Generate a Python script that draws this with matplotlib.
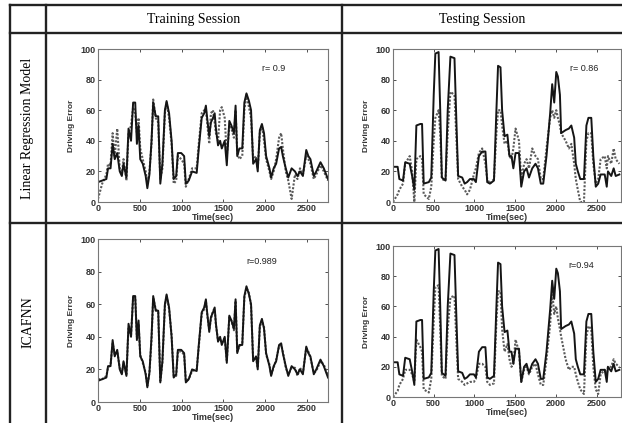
import matplotlib
matplotlib.use("Agg")
from matplotlib import pyplot as plt
from matplotlib.lines import Line2D

# training session (same driving error for both models)
train_t = [0, 50, 100, 120, 150, 175, 200, 230, 260, 285, 305, 340, 365, 395, 420,
           445, 465, 485, 505, 535, 570, 590, 615, 640, 660, 690, 720, 745, 770, 800,
           820, 850, 880, 905, 935, 955, 995, 1030, 1050, 1085, 1125, 1180, 1205, 1240, 1270,
           1290, 1305, 1330, 1350, 1375, 1395, 1410, 1435, 1460, 1480, 1515, 1540, 1570, 1595, 1625,
           1645, 1665, 1690, 1725, 1750, 1775, 1805, 1830, 1855, 1890, 1910, 1935, 1960, 1985, 2010,
           2050, 2070, 2100, 2130, 2165, 2190, 2210, 2245, 2275, 2315, 2355, 2385, 2415, 2450, 2490,
           2515, 2540, 2580, 2610, 2660, 2700, 2750]
train_actual = [13, 14, 15, 22, 22, 38, 28, 32, 20, 17, 25, 16, 48, 40, 65,
                65, 38, 50, 28, 25, 17, 9, 18, 40, 65, 56, 56, 12, 25, 60,
                66, 58, 40, 15, 17, 32, 32, 30, 12, 14, 20, 19, 35, 55, 58,
                63, 55, 43, 52, 55, 58, 48, 37, 40, 35, 40, 24, 53, 50, 45,
                63, 30, 35, 35, 65, 71, 66, 60, 25, 28, 20, 47, 51, 45, 30,
                22, 16, 22, 25, 35, 36, 30, 22, 16, 22, 20, 17, 20, 17, 34,
                30, 28, 17, 20, 26, 22, 15]
train_lr = [2, 12, 18, 25, 24, 45, 30, 48, 22, 18, 28, 14, 45, 50, 62,
            58, 45, 55, 35, 28, 20, 12, 20, 38, 67, 55, 52, 15, 22, 58,
            65, 55, 38, 12, 14, 30, 28, 25, 10, 15, 22, 22, 38, 58, 60,
            60, 52, 38, 58, 60, 52, 45, 40, 60, 62, 55, 30, 50, 48, 42,
            60, 32, 28, 30, 60, 70, 62, 55, 28, 30, 22, 45, 50, 40, 28,
            20, 15, 20, 28, 42, 45, 35, 20, 14, 2, 18, 15, 22, 18, 30,
            28, 25, 15, 18, 24, 20, 14]
train_icafnn = [14, 14, 16, 21, 23, 36, 29, 31, 21, 17, 24, 17, 46, 41, 64,
                64, 40, 48, 29, 24, 18, 10, 18, 38, 64, 57, 55, 13, 24, 59,
                65, 57, 41, 16, 16, 31, 31, 29, 13, 14, 19, 20, 34, 54, 57,
                62, 54, 44, 51, 56, 57, 47, 38, 39, 36, 39, 25, 52, 50, 44,
                62, 31, 34, 36, 64, 70, 67, 59, 26, 27, 21, 46, 50, 46, 29,
                23, 17, 21, 26, 34, 35, 31, 21, 17, 21, 21, 16, 21, 18, 33,
                31, 27, 18, 19, 25, 23, 16]

# testing session
test_t = [0, 57, 78, 123, 150, 205, 235, 262, 287, 336, 357, 377, 440, 470, 500,
          520, 560, 580, 600, 645, 672, 705, 755, 780, 800, 850, 880, 910, 945, 993,
          1018, 1055, 1095, 1135, 1157, 1190, 1240, 1270, 1290, 1320, 1340, 1370, 1405, 1430, 1455,
          1478, 1505, 1547, 1575, 1610, 1640, 1670, 1710, 1750, 1780, 1815, 1845, 1885, 1930, 1955,
          1980, 2005, 2025, 2050, 2065, 2120, 2160, 2190, 2225, 2245, 2270, 2300, 2345, 2375, 2400,
          2435, 2460, 2490, 2520, 2550, 2600, 2625, 2640, 2680, 2710, 2735, 2780]
test_actual = [23, 23, 15, 14, 26, 25, 17, 8, 50, 51, 51, 12, 13, 16, 70,
               97, 98, 60, 16, 14, 60, 95, 94, 50, 17, 16, 12, 13, 15, 15,
               13, 30, 33, 33, 13, 12, 14, 60, 89, 88, 60, 43, 44, 30, 30,
               22, 32, 32, 10, 20, 22, 16, 22, 25, 22, 12, 12, 30, 58, 77,
               65, 85, 82, 70, 45, 47, 48, 50, 42, 25, 20, 15, 15, 50, 55,
               55, 30, 10, 12, 18, 18, 10, 20, 17, 22, 17, 18]
test_lr = [0, 5, 8, 12, 25, 30, 20, 0, 28, 30, 28, 5, 2, 10, 40,
           55, 60, 45, 15, 14, 45, 72, 70, 40, 15, 10, 8, 5, 8, 18,
           22, 32, 35, 25, 15, 12, 15, 45, 60, 60, 50, 38, 40, 30, 28,
           35, 48, 40, 15, 25, 28, 22, 35, 30, 28, 15, 15, 35, 55, 60,
           55, 60, 55, 50, 45, 40, 35, 38, 25, 15, 8, 0, 0, 40, 45,
           45, 25, 12, 15, 28, 30, 22, 30, 25, 35, 28, 25]
test_icafnn = [0, 4, 8, 12, 18, 18, 15, 10, 38, 33, 30, 5, 3, 12, 50,
               73, 74, 45, 14, 12, 45, 66, 67, 35, 12, 10, 8, 9, 10, 10,
               12, 22, 22, 20, 10, 8, 9, 50, 70, 70, 45, 30, 35, 25, 20,
               22, 38, 30, 10, 18, 20, 15, 20, 22, 15, 8, 8, 25, 48, 70,
               55, 60, 52, 45, 40, 25, 18, 20, 20, 15, 10, 5, 2, 40, 47,
               45, 20, 5, 2, 15, 18, 15, 20, 20, 25, 22, 20]

col_titles = ["Training Session", "Testing Session"]
row_titles = ["Linear Regression Model", "ICAFNN"]
r_values = [["r= 0.9", "r= 0.86"], ["r=0.989", "r=0.94"]]
r_pos = [[(1960, 87), (2175, 87)], [(1770, 86), (2150, 87)]]

W, H = 622, 423
fig = plt.figure(figsize=(W / 100, H / 100), dpi=100)
fig.patch.set_facecolor("white")


def px_axes(left, top, right, bottom):
    return fig.add_axes([left / W, 1 - bottom / H, (right - left) / W, (bottom - top) / H])


def hline(y, x0, x1):
    fig.add_artist(Line2D([x0 / W, x1 / W], [1 - y / H, 1 - y / H], color="#222222", lw=1.7))


def vline(x, y0, y1):
    fig.add_artist(Line2D([x / W, x / W], [1 - y0 / H, 1 - y1 / H], color="#222222", lw=1.7))


# table grid
hline(5, 10, 622)
hline(33, 10, 622)
hline(223, 10, 622)
vline(10, 5, 423)
vline(46, 5, 423)
vline(342, 5, 423)

fig.text(194 / W, 1 - 19 / H, col_titles[0], ha="center", va="center",
         family="Liberation Serif", fontsize=10)
fig.text(482 / W, 1 - 19 / H, col_titles[1], ha="center", va="center",
         family="Liberation Serif", fontsize=10)
fig.text(28 / W, 1 - 128 / H, row_titles[0], ha="center", va="center", rotation=90,
         family="Liberation Serif", fontsize=10)
fig.text(28 / W, 1 - 322 / H, row_titles[1], ha="center", va="center", rotation=90,
         family="Liberation Serif", fontsize=10)

boxes = [[(98, 49, 328, 202), (393, 49, 621, 202)],
         [(98, 239, 328, 402), (393, 246, 621, 397)]]
xlims = [2750, 2800]
series = [[(train_t, train_actual, train_lr), (test_t, test_actual, test_lr)],
          [(train_t, train_actual, train_icafnn), (test_t, test_actual, test_icafnn)]]

for i in range(2):
    for j in range(2):
        ax = px_axes(*boxes[i][j])
        t, actual, pred = series[i][j]
        ax.plot(t, pred, color="#5a5a5a", lw=1.5, linestyle=(0, (1, 0.8)))
        ax.plot(t, actual, color="#151515", lw=1.4)
        ax.set_xlim(0, xlims[j])
        ax.set_ylim(0, 100)
        ax.set_xticks([0, 500, 1000, 1500, 2000, 2500])
        ax.set_yticks([0, 20, 40, 60, 80, 100])
        ax.tick_params(direction="in", length=2, width=0.6, top=True, right=True,
                       labelsize=6.5, pad=1.5, colors="#333333")
        for lab in ax.get_xticklabels() + ax.get_yticklabels():
            lab.set_family("Liberation Sans")
            lab.set_fontweight("bold")
        for s in ax.spines.values():
            s.set_color("#777777")
            s.set_linewidth(0.8)
        ax.set_xlabel("Time(sec)", fontsize=6.5, fontweight="bold", family="Liberation Sans",
                      labelpad=0, color="#333333")
        ax.set_ylabel("Driving Error", fontsize=6, fontweight="bold", family="Liberation Sans",
                      labelpad=4, color="#333333")
        ax.text(r_pos[i][j][0], r_pos[i][j][1], r_values[i][j], fontsize=6.5,
                family="Liberation Sans", color="#222222", va="center")

fig.savefig("out.png", dpi=100)
